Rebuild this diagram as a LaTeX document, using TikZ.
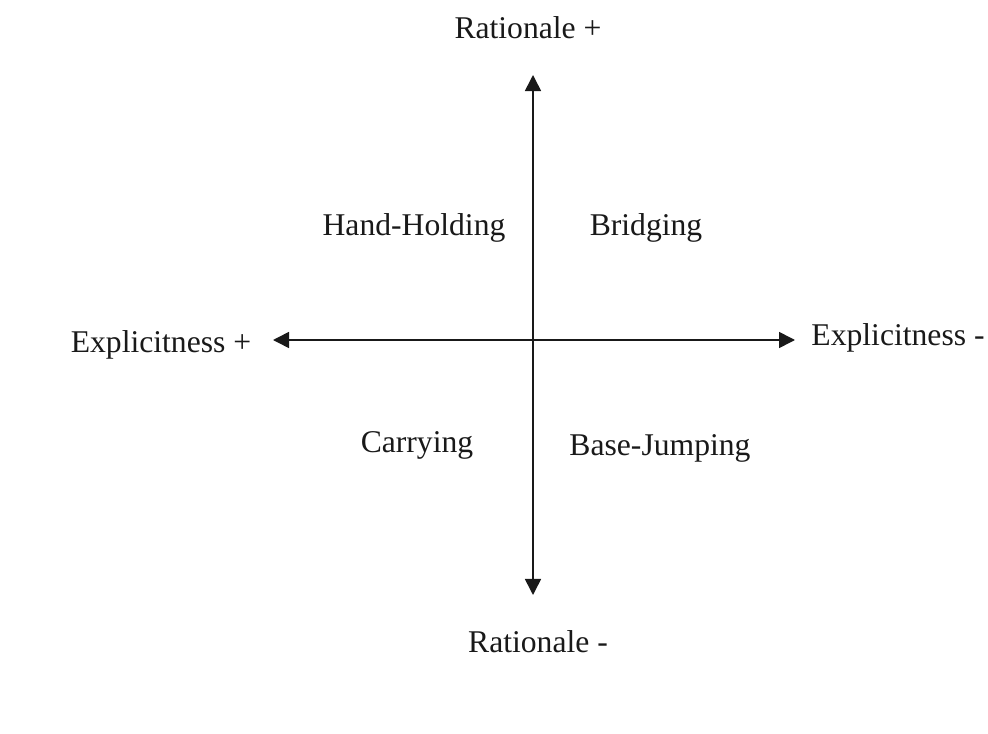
\documentclass[tikz,border=0pt]{standalone}
\usepackage{fontspec}
\setmainfont{Liberation Serif}
\usetikzlibrary{arrows.meta,positioning}

\begin{document}
\begin{tikzpicture}[x=0.025cm,y=0.025cm,
  lbl/.style={anchor=base,inner sep=0pt,font=\fontsize{22.5}{27}\selectfont},
  axis/.style={line width=1.1pt,{Triangle[length=0.4cm,width=0.4cm]}-{Triangle[length=0.4cm,width=0.4cm]}}]
%
\useasboundingbox (0,0) rectangle (988,733);
%
\definecolor{cax}{rgb}{0.1,0.1,0.1}
\definecolor{clb}{rgb}{0.1,0.1,0.1}
%
\coordinate (ytop) at (533,658);
\coordinate (ybot) at (533,138);
\coordinate (xlft) at (273,393);
\coordinate (xrgt) at (795,393);
%
\node[lbl,text=clb] (rplus) at (528,694) {Rationale +};
\node[lbl,text=clb] (rminus) at (538,81) {Rationale -};
\node[lbl,text=clb] (eplus) at (161,380) {Explicitness +};
\node[lbl,text=clb] (eminus) at (898,388) {Explicitness -};
%
\node[lbl,text=clb] (hand) at (414,497) {Hand-Holding};
\node[lbl,text=clb] (bridge) at (646,497) {Bridging};
\node[lbl,text=clb] (carry) at (417,281) {Carrying};
\node[lbl,text=clb] (base) at (660,278) {Base-Jumping};
%
\draw[axis,color=cax] (ytop) -- (ybot);
\draw[axis,color=cax] (xlft) -- (xrgt);
%
\end{tikzpicture}
\end{document}
